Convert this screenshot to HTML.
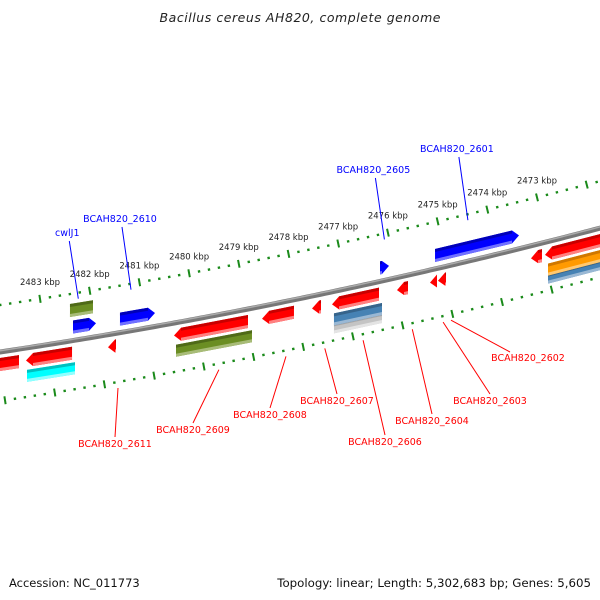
<!DOCTYPE html>
<html><head><meta charset="utf-8"><title>Bacillus cereus AH820 genome map</title>
<style>
html,body{margin:0;padding:0;background:#fff;}
svg{display:block;font-family:"DejaVu Sans","Liberation Sans",sans-serif;}
</style></head>
<body>
<svg id="map" width="600" height="600" viewBox="0 0 600 600" xmlns="http://www.w3.org/2000/svg">
<rect width="600" height="600" fill="#fff"/>
<text x="300" y="22" text-anchor="middle" font-size="12.5" font-style="italic" fill="#222" textLength="281">Bacillus cereus AH820, complete genome</text>
<text x="9" y="587" font-size="11.5" fill="#111">Accession: NC_011773</text>
<text x="591" y="587" text-anchor="end" font-size="11.8" fill="#111">Topology: linear; Length: 5,302,683 bp; Genes: 5,605</text>
<g id="rings"></g><g id="feats"></g><g id="labels"></g>
</svg>
<script>
// ---- data ----
const majorTicks = [2483,2482,2481,2480,2479,2478,2477,2476,2475,2474,2473];
const tickLabels = ["2483 kbp","2482 kbp","2481 kbp","2480 kbp","2479 kbp","2478 kbp","2477 kbp","2476 kbp","2475 kbp","2474 kbp","2473 kbp"];
// features: [leftKbp, rightKbp]
const revCds = [[2483.95,2483.423],[2483.282,2482.356],[2481.632,2481.471],[2480.304,2478.815],[2478.533,2477.890],[2477.527,2477.346],[2477.125,2476.179],[2475.817,2475.596],[2475.153,2475.012],[2474.992,2474.831],[2473.121,2472.900],[2472.839,2471.5]];
const fwdCds = [[2482.336,2481.873],[2481.391,2480.686],[2476.159,2475.978],[2475.052,2473.362]];
const fwdGene = [[2482.397,2481.934]];
const revLane2 = [[2483.262,2482.296,"cyan"],[2480.264,2478.735,"olive"],[2477.085,2476.119,"steel"],[2472.779,2471.5,"orange"]];
const revLane3 = [[2477.085,2476.119,"gray"],[2472.779,2471.5,"steel"]];
const blueLabels = ["cwlJ1","BCAH820_2610","BCAH820_2605","BCAH820_2601"];
const blueLabelKbp = [2482.23,2481.17,2476.07,2474.39];
const redLabels = ["BCAH820_2611","BCAH820_2609","BCAH820_2608","BCAH820_2607","BCAH820_2606","BCAH820_2604","BCAH820_2603","BCAH820_2602"];
const redLabelKbp = [2481.43,2479.40,2478.05,2477.27,2476.50,2475.51,2474.89,2474.73];

// ---- geometry ----
const PX = 49.7, K0 = 2483.805;
function X(k){return (K0-k)*PX;}
function yb(x){return 352-0.15*x-0.000094*x*x;}
function slope(x){return -0.15-2*0.000094*x;}
const NS="http://www.w3.org/2000/svg";
function mk(tag,attrs,parent){const e=document.createElementNS(NS,tag);for(const a in attrs)e.setAttribute(a,attrs[a]);parent.appendChild(e);return e;}
const rings=document.getElementById('rings'),feats=document.getElementById('feats'),labels=document.getElementById('labels');

let d="";for(let x=-5;x<=605;x+=5){d+=(x<0?"M":"L")+x+","+yb(x).toFixed(2);}
let bb=mk('path',{d:d,fill:"none",stroke:"#777","stroke-width":5},rings);


let bb2=mk('path',{d:d,fill:"none",stroke:"#aaa","stroke-width":1.5,transform:"translate(0,-1.3)"},rings);



function tickAt(x,off,len,w,name){
  const s=slope(x),n=Math.sqrt(1+s*s),nx=-s/n,ny=1/n;
  const cx=x,cy=yb(x)+off;
  const t=mk('line',{x1:(cx-nx*len/2).toFixed(2),y1:(cy-ny*len/2).toFixed(2),x2:(cx+nx*len/2).toFixed(2),y2:(cy+ny*len/2).toFixed(2),stroke:"#1a8a1a","stroke-width":w},rings);
  
  
}
const UP=-47, LO=49, LOWSHIFT=0.704;
for(let k=2484.6;k>=2471.2;k-=0.2){
  const kr=Math.round(k*10)/10, x=X(kr); if(x<-3||x>603)continue;
  const major=Math.abs(kr-Math.round(kr))<0.01;
  tickAt(x,UP,major?8:2.4,major?2:2.4,major?'upper-major-tick':'upper-minor-tick');
}
for(let k=2484.6;k>=2471.2;k-=0.2){
  const kr=Math.round(k*10)/10, x=X(kr+LOWSHIFT); if(x<-3||x>603)continue;
  const major=Math.abs(kr-Math.round(kr))<0.01;
  tickAt(x,LO,major?8:2.4,major?2:2.4,major?'lower-major-tick':'lower-minor-tick');
}
majorTicks.forEach((k,i)=>{
  const x=X(k);
  const t=mk('text',{x:x.toFixed(1),y:(yb(x)+UP-14).toFixed(1),"text-anchor":"middle","font-size":"8.5",fill:"#222"},rings);
  t.textContent=tickLabels[i];
  
  
});

const pal={red:["#ff0000","#c80000","#ff8080"],blue:["#0000ff","#0000b8","#7070ff"],olive:["#6b8e23","#4f6a18","#a8bc78"],cyan:["#00ffff","#00c0c0","#90ffff"],steel:["#4682b4","#36648b","#9ab8d4"],gray:["#c4c4c4","#a8a8a8","#e4e4e4"],orange:["#ff9a00","#d07800","#ffc870"]};
function P(x,v){return x.toFixed(2)+","+(yb(x)+v).toFixed(2);}
function feature(k1,k2,v1,v2,dir,color,name){
  let x1=X(k1),x2=X(k2);
  const w=x2-x1, h=dir===0?0:Math.min(7,w), vm=(v1+v2)/2, c=pal[color];
  let pts;
  if(dir<0) pts=[P(x1,vm),P(x1+h,v1),P(x2,v1),P(x2,v2),P(x1+h,v2)];
  else if(dir>0) pts=[P(x1,v1),P(x2-h,v1),P(x2,vm),P(x2-h,v2),P(x1,v2)];
  else pts=[P(x1,v1),P(x2,v1),P(x2,v2),P(x1,v2)];
  const g=mk('g',{},feats);
  
  
  mk('polygon',{points:pts.join(" "),fill:c[0]},g);
  const bx1=dir<0?x1+h:x1, bx2=dir>0?x2-h:x2;
  if(bx2>bx1+0.5){
    mk('polygon',{points:[P(bx1,v1),P(bx2,v1),P(bx2,v1+3),P(bx1,v1+3)].join(" "),fill:c[1]},g);
    mk('polygon',{points:[P(bx1,v2-3),P(bx2,v2-3),P(bx2,v2),P(bx1,v2)].join(" "),fill:c[2]},g);
  }
}
revLane3.forEach(f=>feature(f[0],f[1],32,42,0,f[2],'reverse-lane3-feature'));
revLane2.forEach(f=>feature(f[0],f[1],22,34,0,f[2],'reverse-lane2-feature'));
revCds.forEach(f=>feature(f[0],f[1],6,19,-1,"red",'reverse-cds'));
fwdCds.forEach(f=>feature(f[0],f[1],-20,-7,1,"blue",'forward-cds'));
fwdGene.forEach(f=>feature(f[0],f[1],-37,-24,0,"olive",'forward-gene'));

const blueTextY=[236,222,173,152];
blueLabels.forEach((s,i)=>{
  const x=X(blueLabelKbp[i]);
  const ty=blueTextY[i];
  const l=mk('line',{x1:(x-9).toFixed(1),y1:ty+5,x2:x.toFixed(1),y2:(yb(x)+UP+6).toFixed(1),stroke:"#0000ff","stroke-width":1},labels);
  
  
  const t=mk('text',{x:(x-11).toFixed(1),y:ty,"text-anchor":"middle","font-size":"9.5",fill:"#0000ff"},labels);
  t.textContent=s;
  
  
});
const redTextX=[115,193,270,337,385,432,490,528];
const redTextY=[447,433,418,404,445,424,404,361];
redLabels.forEach((s,i)=>{
  const x=X(redLabelKbp[i]);
  const tx=redTextX[i], ty=redTextY[i];
  const ey = i===7 ? ty-9 : ty-10;
  const ex = i===7 ? tx-18 : tx;
  const l=mk('line',{x1:x.toFixed(1),y1:(yb(x)+LO+6).toFixed(1),x2:ex,y2:ey,stroke:"#ff0000","stroke-width":1},labels);
  
  
  const t=mk('text',{x:tx,y:ty,"text-anchor":"middle","font-size":"9.5",fill:"#ff0000"},labels);
  t.textContent=s;
  
  
});
</script>
</body></html>
